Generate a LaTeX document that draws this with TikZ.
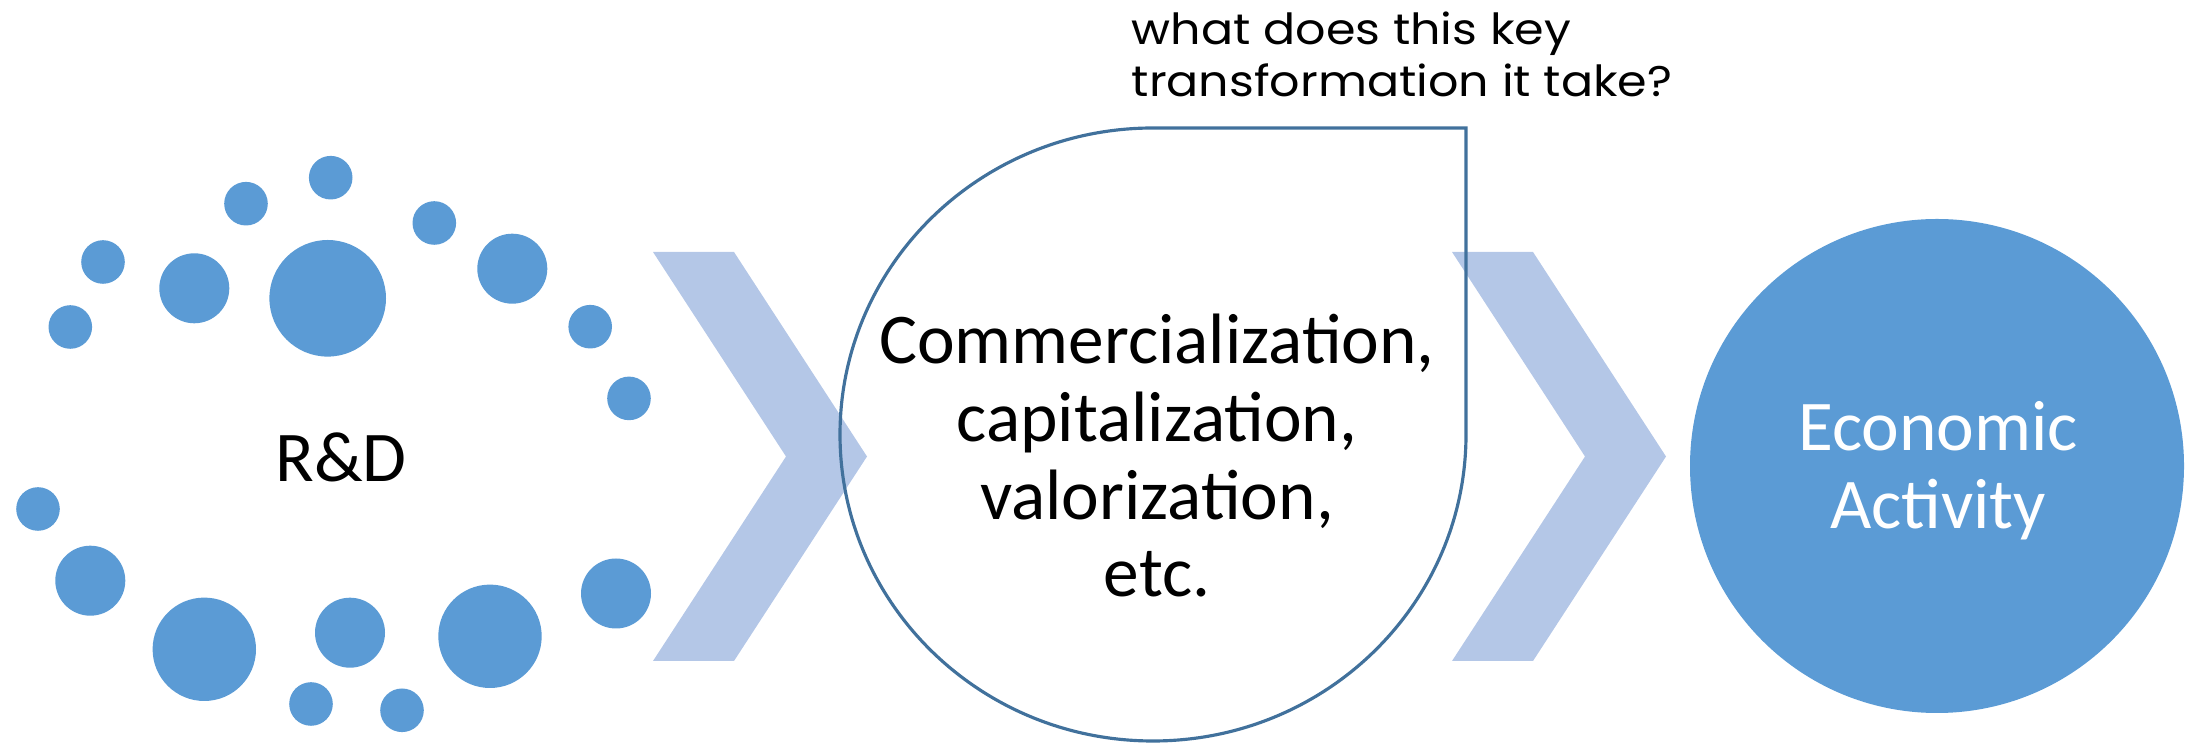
\documentclass[tikz,border=0pt]{standalone}
\usepackage{fontspec}
\setmainfont{Carlito}
\newfontfamily\questionfont[FakeStretch=1.11]{Poppins}
\definecolor{dotblue}{HTML}{5B9BD5}
\definecolor{chevronblue}{HTML}{B4C7E7}
\definecolor{edgeblue}{HTML}{41719C}
\tikzset
{
    dotsmall/.style  = {circle, fill=dotblue, inner sep=0pt, minimum size=0.436cm},
    dotmedium/.style = {circle, fill=dotblue, inner sep=0pt, minimum size=0.70cm},
    dotlarge/.style  = {circle, fill=dotblue, inner sep=0pt, minimum size=1.034cm},
    dotbig/.style    = {circle, fill=dotblue, inner sep=0pt, minimum size=1.166cm},
    chevron/.style   = {fill=chevronblue},
    teardrop/.style  = {draw=edgeblue, line width=0.9pt},
    outcome/.style   = {circle, fill=dotblue, inner sep=0pt, minimum size=4.94cm},
    bodytext/.style  = {font=\fontsize{20.3pt}{22.1pt}\selectfont, align=center, anchor=base, inner sep=0pt},
    question/.style  = {font=\questionfont\fontsize{12.2pt}{14.9pt}\selectfont, align=left, anchor=base west, inner sep=0pt}
}

\begin{document}
\begin{tikzpicture}
   \newcommand\CHEVW{0.81}
   \newcommand\CHEVDX{1.33}
   \newcommand\CHEVDY{2.045}
   \newcommand\DROPRX{3.13}
   \newcommand\DROPRY{3.065}

   \useasboundingbox (0, 0) rectangle (21.88, 7.45);

   % ring of dots round R&D
   \node (d1)  [dotsmall]  at (3.307, 5.673) {};
   \node (d2)  [dotsmall]  at (2.460, 5.413) {};
   \node (d3)  [dotsmall]  at (1.030, 4.830) {};
   \node (d4)  [dotsmall]  at (0.703, 4.180) {};
   \node (d5)  [dotmedium] at (1.943, 4.567) {};
   \node (d6)  [dotbig]    at (3.277, 4.467) {};
   \node (d7)  [dotsmall]  at (4.343, 5.220) {};
   \node (d8)  [dotmedium] at (5.123, 4.763) {};
   \node (d9)  [dotsmall]  at (5.902, 4.183) {};
   \node (d10) [dotsmall]  at (6.290, 3.466) {};
   \node (d11) [dotsmall]  at (0.380, 2.360) {};
   \node (d12) [dotmedium] at (0.903, 1.643) {};
   \node (d13) [dotlarge]  at (2.043, 0.957) {};
   \node (d14) [dotmedium] at (3.500, 1.123) {};
   \node (d15) [dotlarge]  at (4.900, 1.087) {};
   \node (d16) [dotmedium] at (6.160, 1.515) {};
   \node (d17) [dotsmall]  at (3.110, 0.410) {};
   \node (d18) [dotsmall]  at (4.020, 0.347) {};

   \node (rd) [bodytext] at (3.41, 2.633) {R\&D};

   % chevrons
   \coordinate (cl) at (6.53, 4.93);
   \coordinate (cr) at (14.52, 4.93);
   \fill[chevron] (cl) -- ++(\CHEVW, 0) -- ++(\CHEVDX, -\CHEVDY) -- ++(-\CHEVDX, -\CHEVDY)
                       -- ++(-\CHEVW, 0) -- ++(\CHEVDX, \CHEVDY) -- cycle;
   \fill[chevron] (cr) -- ++(\CHEVW, 0) -- ++(\CHEVDX, -\CHEVDY) -- ++(-\CHEVDX, -\CHEVDY)
                       -- ++(-\CHEVW, 0) -- ++(\CHEVDX, \CHEVDY) -- cycle;

   % teardrop
   \coordinate (tc) at (11.53, 3.105);
   \draw[teardrop] ([shift=({-\DROPRX, 0})]tc)
        arc[start angle=180, end angle=90, x radius=\DROPRX, y radius=\DROPRY]
        -- ([shift=({\DROPRX, \DROPRY})]tc) -- ([shift=({\DROPRX, 0})]tc)
        arc[start angle=0, end angle=-180, x radius=\DROPRX, y radius=\DROPRY] -- cycle;

   % base anchor sits on the last line
   \node (cm) [bodytext] at (11.57, 1.483) {Commercialization,\\ capitalization,\\ valorization,\\ etc.};

   \node (qu) [question] at (11.31, 6.483) {what does this key\\ transformation it take?};

   % economic activity
   \node (ea) [outcome] at (19.37, 2.79) {};
   \node (et) [bodytext, text=white] at (19.38, 2.167) {Economic\\ Activity};
\end{tikzpicture}
\end{document}
